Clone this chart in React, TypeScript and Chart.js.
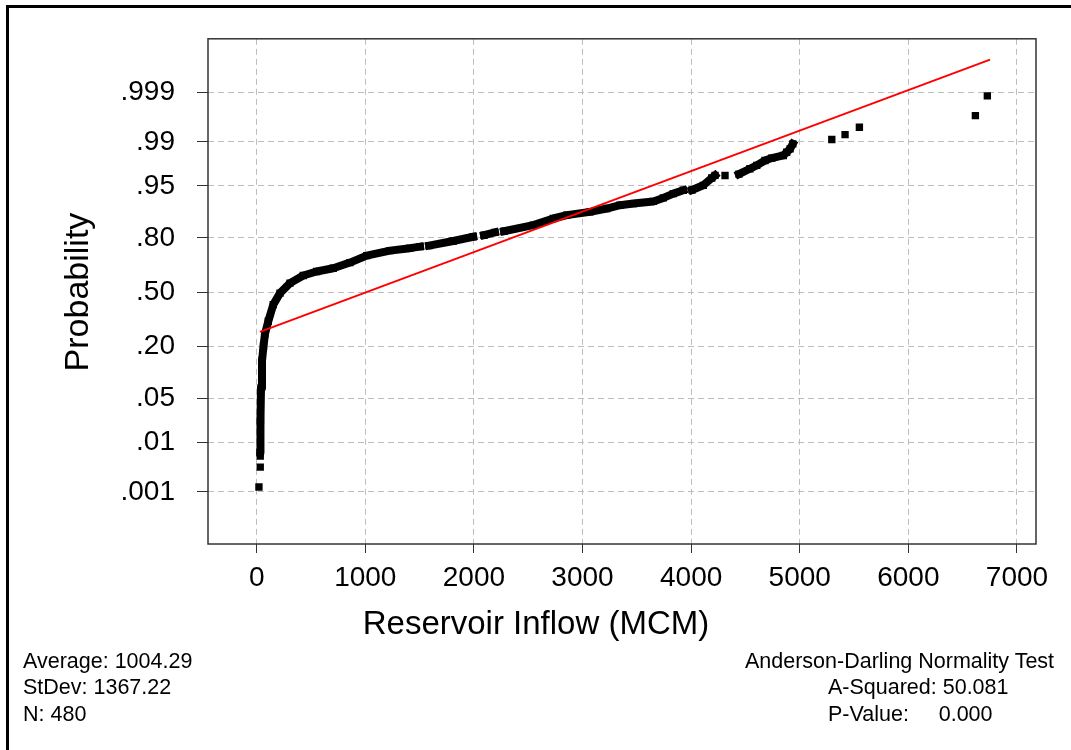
import React, { useEffect, useRef } from "react";
import { Chart, registerables } from "chart.js";

Chart.register(...registerables);

// ---- data (N = 480) ----
const xTickValues = [0, 1000, 2000, 3000, 4000, 5000, 6000, 7000];
const probTickValues = [0.001, 0.01, 0.05, 0.2, 0.5, 0.8, 0.95, 0.99, 0.999];
const probTickLabels = [".001", ".01", ".05", ".20", ".50", ".80", ".95", ".99", ".999"];

// dense body of overlapping markers, read along its centre (null = visible gap)
const denseInflow = [
  33, 35, 40, 49, 63, 76, 107, 153, 215, 307, 429, 552, 705, 859, 1013, 1227, 1412, 1504,
  null, 1587, 1810, 1994,
  null, 2093, 2194,
  null, 2277, 2547, 2731, 2855, 3069, 3223, 3345, 3468, 3652, 3744, 3836, 3928,
  null, 4008, 4112, 4190, 4220,
  null, 4440, 4541, 4604, 4680, 4742, 4849, 4880, 4911, 4936,
];
const denseProb = [
  0.00657, 0.0234, 0.0694, 0.1435, 0.2022, 0.2581, 0.3267, 0.4238, 0.4944, 0.5557, 0.602, 0.6255, 0.6446, 0.6767, 0.7143, 0.7399, 0.7522, 0.7595,
  null, 0.7642, 0.7859, 0.8046,
  null, 0.811, 0.8224,
  null, 0.8272, 0.8505, 0.8729, 0.8834, 0.8931, 0.9022, 0.9109, 0.9148, 0.9199, 0.9276, 0.9363, 0.9426,
  null, 0.9431, 0.9509, 0.9613, 0.9647,
  null, 0.9662, 0.9719, 0.9751, 0.9792, 0.981, 0.9828, 0.9848, 0.9867, 0.9891,
];

// isolated markers in the tails
const sparseInflow = [21, 33, 33, 4312, 5295, 5417, 5549, 6617, 6727];
const sparseProb = [0.00129, 0.0034, 0.00564, 0.9645, 0.9909, 0.9926, 0.99463, 0.99684, 0.99881];

// fitted normal line (end points)
const fitInflow = [30, 6752];
const fitProb = [0.2696, 0.99984];

const statsLeft = ["Average: 1004.29", "StDev: 1367.22", "N: 480"];
const statsRight = ["Anderson-Darling Normality Test", "A-Squared: 50.081", "P-Value:     0.000"];

// inverse standard normal CDF (probability scale transform)
function probToZ(p: number): number {
  const a = [-3.969683028665376e1, 2.209460984245205e2, -2.759285104469687e2, 1.38357751867269e2, -3.066479806614716e1, 2.506628277459239];
  const b = [-5.447609879822406e1, 1.615858368580409e2, -1.556989798598866e2, 6.680131188771972e1, -1.328068155288572e1];
  const c = [-7.784894002430293e-3, -3.223964580411365e-1, -2.400758277161838, -2.549732539343734, 4.374664141464968, 2.938163982698783];
  const d = [7.784695709041462e-3, 3.224671290700398e-1, 2.445134137142996, 3.754408661907416];
  const pl = 0.02425;
  if (p < pl) {
    const q = Math.sqrt(-2 * Math.log(p));
    return (((((c[0] * q + c[1]) * q + c[2]) * q + c[3]) * q + c[4]) * q + c[5]) / ((((d[0] * q + d[1]) * q + d[2]) * q + d[3]) * q + 1);
  }
  if (p <= 1 - pl) {
    const q = p - 0.5;
    const r = q * q;
    return ((((((a[0] * r + a[1]) * r + a[2]) * r + a[3]) * r + a[4]) * r + a[5]) * q) / (((((b[0] * r + b[1]) * r + b[2]) * r + b[3]) * r + b[4]) * r + 1);
  }
  const q = Math.sqrt(-2 * Math.log(1 - p));
  return -(((((c[0] * q + c[1]) * q + c[2]) * q + c[3]) * q + c[4]) * q + c[5]) / ((((d[0] * q + d[1]) * q + d[2]) * q + d[3]) * q + 1);
}

const FONT = "'Liberation Sans', Arial, Helvetica, sans-serif";

export default function App() {
  const ref = useRef<HTMLCanvasElement | null>(null);

  useEffect(() => {
    if (!ref.current) return;
    const toPts = (xs: (number | null)[], ps: (number | null)[]) =>
      xs.map((x, i) => ({ x: x, y: ps[i] == null ? null : probToZ(ps[i] as number) }));

    const frame = {
      id: "frame",
      afterDraw(chart: any) {
        const { ctx, chartArea: a } = chart;
        ctx.save();
        ctx.strokeStyle = "#333";
        ctx.lineWidth = 1.5;
        ctx.strokeRect(a.left, a.top, a.right - a.left, a.bottom - a.top);
        ctx.restore();
      },
    };

    const tickFont = { family: FONT, size: 28 };

    const chart = new Chart(ref.current, {
      type: "scatter",
      data: {
        datasets: [
          {
            label: "fit",
            data: toPts(fitInflow, fitProb) as any,
            showLine: true,
            borderColor: "#ff0000",
            borderWidth: 2,
            pointRadius: 0,
          },
          {
            label: "dense",
            data: toPts(denseInflow, denseProb) as any,
            showLine: true,
            spanGaps: false,
            borderColor: "#000",
            borderWidth: 8,
            borderCapStyle: "square",
            borderJoinStyle: "round",
            pointStyle: "rect",
            pointRadius: 5.2,
            pointBackgroundColor: "#000",
            pointBorderWidth: 0,
          },
          {
            label: "sparse",
            data: toPts(sparseInflow, sparseProb) as any,
            pointStyle: "rect",
            pointRadius: 5.2,
            backgroundColor: "#000",
            borderColor: "#000",
            borderWidth: 0,
          },
        ],
      },
      options: {
        responsive: false,
        animation: false,
        events: [],
        layout: { padding: { top: 36, right: 35, left: 0, bottom: 0 } },
        plugins: { legend: { display: false }, tooltip: { enabled: false }, title: { display: false } },
        scales: {
          x: {
            type: "linear",
            min: -448,
            max: 7175,
            afterFit: (s: any) => {
              s.height = 206;
            },
            afterBuildTicks: (s: any) => {
              s.ticks = xTickValues.map((v) => ({ value: v }));
            },
            ticks: {
              callback: (v: any) => String(v),
              font: tickFont,
              color: "#000",
              padding: 8,
              maxRotation: 0,
              minRotation: 0,
              autoSkip: false,
            },
            grid: { color: "#bdbdbd", lineWidth: 1, tickLength: 9, tickColor: "#333", tickWidth: 1, tickBorderDash: [] },
            border: { display: false, dash: [6, 4] },
          },
          y: {
            type: "linear",
            min: -3.895,
            max: 3.92,
            afterFit: (s: any) => {
              s.width = 208;
            },
            afterBuildTicks: (s: any) => {
              s.ticks = probTickValues.map((p) => ({ value: probToZ(p) }));
            },
            ticks: {
              callback: (_v: any, i: number) => probTickLabels[i],
              font: tickFont,
              color: "#000",
              padding: 22,
              autoSkip: false,
            },
            grid: { color: "#bdbdbd", lineWidth: 1, tickLength: 11, tickColor: "#333", tickWidth: 1, tickBorderDash: [] },
            border: { display: false, dash: [6, 4] },
          },
        },
      } as any,
      plugins: [frame],
    });
    return () => chart.destroy();
  }, []);

  const textBase: React.CSSProperties = {
    position: "absolute",
    fontFamily: FONT,
    color: "#000",
    whiteSpace: "pre",
    lineHeight: 1,
  };
  const baselines = [669, 695.5, 722];
  const statSize = 21.5;

  return (
    <div style={{ position: "fixed", left: 0, top: 0, width: 1071, height: 750, overflow: "hidden", background: "#fff" }}>
      <canvas ref={ref} width={1071} height={750} style={{ position: "absolute", left: 0, top: 0, width: 1071, height: 750 }} />
      <div style={{ position: "absolute", left: 6, top: 5, width: 1200, height: 900, border: "3px solid #000", pointerEvents: "none" }} />
      <div style={{ ...textBase, fontSize: 34, left: 76, top: 292, transform: "translate(-50%, -50%) rotate(-90deg)" }}>Probability</div>
      <div style={{ ...textBase, fontSize: 33, left: 536, top: 622, transform: "translate(-50%, -50%)" }}>Reservoir Inflow (MCM)</div>
      {statsLeft.map((t, i) => (
        <div key={"l" + i} style={{ ...textBase, fontSize: statSize, left: 23, top: baselines[i] - 0.8465 * statSize }}>{t}</div>
      ))}
      {statsRight.map((t, i) => (
        <div key={"r" + i} style={{ ...textBase, fontSize: statSize, left: i === 0 ? 745 : 828, top: baselines[i] - 0.8465 * statSize }}>{t}</div>
      ))}
    </div>
  );
}
